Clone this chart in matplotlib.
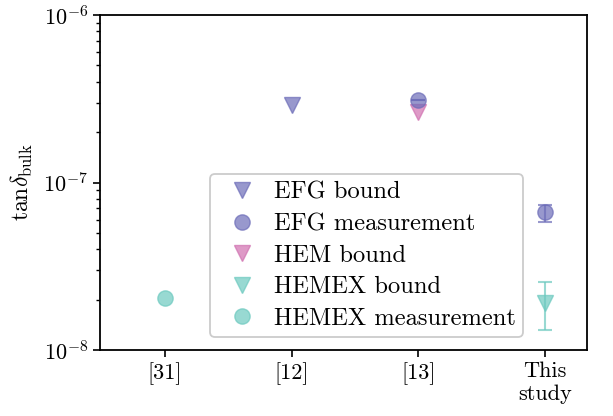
import matplotlib
matplotlib.use("Agg")
import matplotlib.pyplot as plt
from matplotlib.lines import Line2D

plt.rcParams['font.family'] = 'serif'
plt.rcParams['font.serif'] = ['cmr10', 'DejaVu Serif']
plt.rcParams['mathtext.fontset'] = 'cm'
plt.rcParams['axes.formatter.use_mathtext'] = True
plt.rcParams['axes.unicode_minus'] = False

categories = ["[31]", "[12]", "[13]", "This\nstudy"]

# EFG bound
efg_bound_x = [1]
efg_bound_y = [2.9e-7]
# EFG measurement
efg_meas_x = [2, 3]
efg_meas_y = [3.1e-7, 6.7e-8]
efg_meas_lo = [0.0, 6.7e-8 - 5.8e-8]
efg_meas_hi = [0.0, 7.3e-8 - 6.7e-8]
# HEM bound
hem_bound_x = [2]
hem_bound_y = [2.65e-7]
# HEMEX bound
hemex_bound_x = [3]
hemex_bound_y = [1.92e-8]
hemex_bound_lo = [1.92e-8 - 1.32e-8]
hemex_bound_hi = [2.55e-8 - 1.92e-8]
# HEMEX measurement
hemex_meas_x = [0]
hemex_meas_y = [2.05e-8]

c_efg = '#6c6cb8'
c_hem = '#d070b0'
c_hemex = '#6cc9bf'
alpha = 0.7
ms = 11

fig = plt.figure(figsize=(6.13, 4.16), dpi=100)
ax = fig.add_axes([100/613, 1-350/416, 487/613, 335/416])

ax.plot(efg_bound_x, efg_bound_y, 'v', color=c_efg, alpha=alpha, ms=ms)
ax.errorbar(efg_meas_x, efg_meas_y, yerr=[efg_meas_lo, efg_meas_hi], fmt='o', color=c_efg,
            alpha=alpha, ms=ms, capsize=5, elinewidth=1.5, capthick=1.5)
ax.plot(hem_bound_x, hem_bound_y, 'v', color=c_hem, alpha=alpha, ms=ms)
ax.errorbar(hemex_bound_x, hemex_bound_y, yerr=[hemex_bound_lo, hemex_bound_hi], fmt='v', color=c_hemex,
            alpha=alpha, ms=ms, capsize=5, elinewidth=1.5, capthick=1.5)
ax.plot(hemex_meas_x, hemex_meas_y, 'o', color=c_hemex, alpha=alpha, ms=ms)

ax.set_yscale('log')
ax.set_ylim(1e-8, 1e-6)
ax.set_xlim(-0.51, 3.33)
ax.set_xticks(range(len(categories)))
ax.set_xticklabels(categories)
ax.set_ylabel(r'$\mathrm{tan}\delta_{\rm bulk}$', fontsize=17, labelpad=6)
ax.tick_params(labelsize=16, width=1.2, length=5)
ax.tick_params(which='minor', width=1.0, length=3)
for s in ax.spines.values():
    s.set_linewidth(1.3)

handles = [
    Line2D([], [], ls='none', marker='v', color=c_efg, alpha=alpha, ms=ms),
    Line2D([], [], ls='none', marker='o', color=c_efg, alpha=alpha, ms=ms),
    Line2D([], [], ls='none', marker='v', color=c_hem, alpha=alpha, ms=ms),
    Line2D([], [], ls='none', marker='v', color=c_hemex, alpha=alpha, ms=ms),
    Line2D([], [], ls='none', marker='o', color=c_hemex, alpha=alpha, ms=ms),
]
labels = ['EFG bound', 'EFG measurement', 'HEM bound', 'HEMEX bound', 'HEMEX measurement']
leg = ax.legend(handles, labels, loc='lower left', bbox_to_anchor=(0.226, 0.039), borderaxespad=0,
                fontsize=17.6, handletextpad=0.3, labelspacing=0.38, framealpha=1, edgecolor='#cccccc',
                borderpad=0.3)
leg.get_frame().set_linewidth(1.3)

fig.savefig('out.png', dpi=100)
